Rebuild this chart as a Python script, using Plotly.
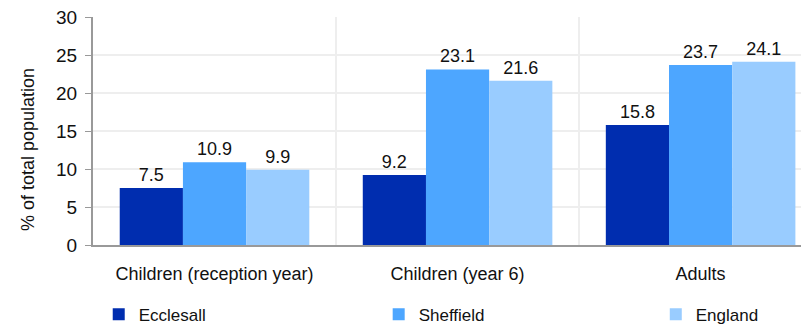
import plotly.graph_objects as go

categories = ["Children (reception year)", "Children (year 6)", "Adults"]
series_names = ["Ecclesall", "Sheffield", "England"]
ecclesall = [7.5, 9.2, 15.8]
sheffield = [10.9, 23.1, 23.7]
england = [9.9, 21.6, 24.1]
colors = ["#002DAF", "#4DA6FF", "#99CCFF"]
y_ticks = [0, 5, 10, 15, 20, 25, 30]
y_title = "% of total population"

FONT = "Liberation Sans, Arial, sans-serif"
legend_ids = ["legend", "legend2", "legend3"]
legend_x = [0.008, 0.399, 0.786]

fig = go.Figure()
for name, vals, col, lid in zip(series_names, [ecclesall, sheffield, england], colors, legend_ids):
    fig.add_trace(go.Bar(
        x=categories, y=vals, name=name, legend=lid,
        marker=dict(color=col, line=dict(width=0)),
        text=[f"{v:.1f}" for v in vals],
        textposition="outside",
        textfont=dict(size=18, color="#111111", family=FONT),
        cliponaxis=False,
    ))

legend_common = dict(
    orientation="h", xanchor="left", y=-0.227, yanchor="top",
    font=dict(size=17, color="#111111", family=FONT),
    itemclick=False, bgcolor="rgba(0,0,0,0)",
)
layout_legends = {lid: dict(legend_common, x=lx) for lid, lx in zip(legend_ids, legend_x)}

fig.update_layout(
    width=801, height=317,
    margin=dict(l=85, r=0, t=9, b=80, autoexpand=False),
    paper_bgcolor="white", plot_bgcolor="white",
    barmode="group", bargap=0.22, bargroupgap=0,
    font=dict(family=FONT, size=17, color="#111111"),
    showlegend=True,
    annotations=[dict(
        text=y_title, textangle=-90, xref="paper", yref="paper",
        x=-0.0908, y=0.421, xanchor="center", yanchor="middle", showarrow=False,
        font=dict(size=18, family=FONT, color="#111111"),
    )],
    **layout_legends,
)
fig.update_xaxes(
    type="category", range=[-0.5, 2.446],
    tickson="boundaries", ticks="", showgrid=True, gridcolor="#EEEEEE", gridwidth=2,
    showline=True, linecolor="#999999", linewidth=2,
    tickfont=dict(size=18, family=FONT, color="#111111"),
    ticklabelstandoff=11,
)
fig.update_yaxes(
    range=[0, 30], tickvals=y_ticks, showgrid=True, gridcolor="#EEEEEE", gridwidth=2,
    showline=True, linecolor="#999999", linewidth=2,
    ticks="outside", ticklen=6, tickcolor="#999999", tickwidth=1,
    tickfont=dict(size=19, family=FONT, color="#111111"),
    ticklabelstandoff=4, ticklabeloverflow="allow",
    zeroline=False,
)
fig.write_html("out.html")
